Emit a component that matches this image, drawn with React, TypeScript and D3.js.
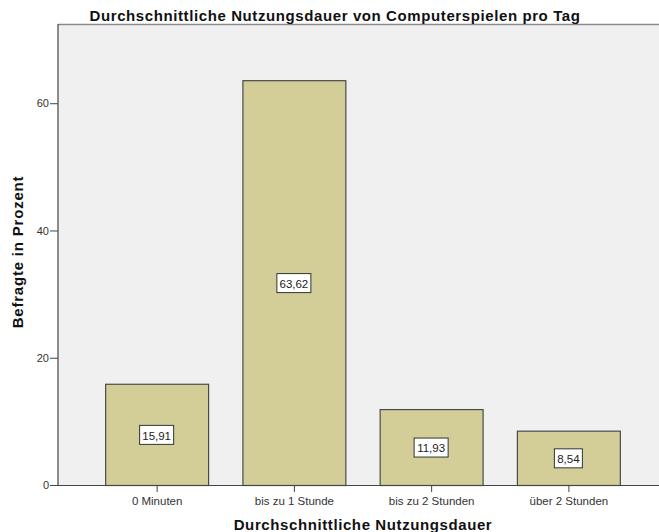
import { useEffect, useRef } from "react";
import * as d3 from "d3";

const categories = ["0 Minuten", "bis zu 1 Stunde", "bis zu 2 Stunden", "über 2 Stunden"];
const values = [15.91, 63.62, 11.93, 8.54];
const valueLabels = ["15,91", "63,62", "11,93", "8,54"];
const yTicks = [0, 20, 40, 60];

const width = 659;
const height = 532;
const font = "'Liberation Sans', Arial, sans-serif";

const App = () => {
  const svgRef = useRef<SVGSVGElement | null>(null);

  useEffect(() => {
    if (!svgRef.current) return;
    const svg = d3.select(svgRef.current);
    svg.selectAll("*").remove();

    const plot = { left: 58, top: 24, right: 659, bottom: 485 };

    const x = d3
      .scaleBand()
      .domain(categories)
      .range([88, 637])
      .paddingInner(0.25)
      .paddingOuter(0.125);

    const y = d3.scaleLinear().domain([0, 72.45]).range([plot.bottom, plot.top]);

    // plot background
    svg
      .append("rect")
      .attr("x", plot.left)
      .attr("y", plot.top)
      .attr("width", plot.right - plot.left)
      .attr("height", plot.bottom - plot.top)
      .attr("fill", "#f0f0f0");
    svg
      .append("line")
      .attr("x1", plot.left)
      .attr("x2", plot.right)
      .attr("y1", plot.top + 0.5)
      .attr("y2", plot.top + 0.5)
      .attr("stroke", "#8a8a8a")
      .attr("stroke-width", 1.5);

    // bars
    svg
      .selectAll(".bar")
      .data(values)
      .enter()
      .append("rect")
      .attr("class", "bar")
      .attr("x", (_d, i) => (x(categories[i]) as number) + 0.5)
      .attr("y", (d) => y(d) + 0.5)
      .attr("width", x.bandwidth())
      .attr("height", (d) => plot.bottom - y(d))
      .attr("fill", "#d3ce97")
      .attr("stroke", "#4a4a4a")
      .attr("stroke-width", 1.2);

    // value labels
    const lbl = svg
      .selectAll(".vlabel")
      .data(values)
      .enter()
      .append("g")
      .attr(
        "transform",
        (d, i) =>
          `translate(${(x(categories[i]) as number) + x.bandwidth() / 2},${(y(d) + plot.bottom) / 2 + 1})`,
      );
    lbl
      .append("rect")
      .attr("x", (_d, i) => (valueLabels[i].length > 4 ? -17 : -14))
      .attr("y", -10)
      .attr("width", (_d, i) => (valueLabels[i].length > 4 ? 34 : 28))
      .attr("height", 19)
      .attr("fill", "#ffffff")
      .attr("stroke", "#333")
      .attr("stroke-width", 1);
    lbl
      .append("text")
      .attr("text-anchor", "middle")
      .attr("dy", "0.36em")
      .attr("font-family", font)
      .attr("font-size", 11.5)
      .attr("fill", "#222")
      .text((_d, i) => valueLabels[i]);

    // y axis
    const yAxis = svg
      .append("g")
      .attr("transform", `translate(${plot.left},0)`)
      .call(d3.axisLeft(y).tickValues(yTicks).tickSize(8).tickSizeOuter(0).tickPadding(1));
    yAxis.select(".domain").remove();
    yAxis.selectAll(".tick line").attr("stroke", "#444");
    yAxis
      .selectAll("text")
      .attr("font-family", font)
      .attr("font-size", 11)
      .attr("fill", "#333");
    svg
      .append("line")
      .attr("x1", plot.left)
      .attr("x2", plot.left)
      .attr("y1", plot.top)
      .attr("y2", plot.bottom)
      .attr("stroke", "#444")
      .attr("stroke-width", 1.2);

    // x axis
    const xAxis = svg
      .append("g")
      .attr("transform", `translate(0.5,${plot.bottom})`)
      .call(d3.axisBottom(x).tickSize(7).tickSizeOuter(0).tickPadding(5));
    xAxis.select(".domain").remove();
    xAxis.selectAll(".tick line").attr("stroke", "#444");
    xAxis
      .selectAll("text")
      .attr("font-family", font)
      .attr("font-size", 11.5)
      .attr("fill", "#333");
    svg
      .append("line")
      .attr("x1", plot.left)
      .attr("x2", plot.right)
      .attr("y1", plot.bottom + 0.5)
      .attr("y2", plot.bottom + 0.5)
      .attr("stroke", "#444")
      .attr("stroke-width", 1.2);

    // titles
    svg
      .append("text")
      .attr("x", 335)
      .attr("y", 21)
      .attr("text-anchor", "middle")
      .attr("font-family", font)
      .attr("font-size", 15)
      .attr("letter-spacing", 0.6)
      .attr("font-weight", "bold")
      .attr("fill", "#111")
      .text("Durchschnittliche Nutzungsdauer von Computerspielen pro Tag");
    svg
      .append("text")
      .attr("x", 363)
      .attr("y", 530)
      .attr("text-anchor", "middle")
      .attr("font-family", font)
      .attr("font-size", 15)
      .attr("letter-spacing", 0.6)
      .attr("font-weight", "bold")
      .attr("fill", "#111")
      .text("Durchschnittliche Nutzungsdauer");
    svg
      .append("text")
      .attr("transform", "translate(23,252) rotate(-90)")
      .attr("text-anchor", "middle")
      .attr("font-family", font)
      .attr("font-size", 15)
      .attr("letter-spacing", 0.8)
      .attr("font-weight", "bold")
      .attr("fill", "#111")
      .text("Befragte in Prozent");
  }, []);

  return (
    <svg
      ref={svgRef}
      width={width}
      height={height}
      style={{ position: "absolute", left: 0, top: 0, background: "#fff" }}
    />
  );
};

export default App;
